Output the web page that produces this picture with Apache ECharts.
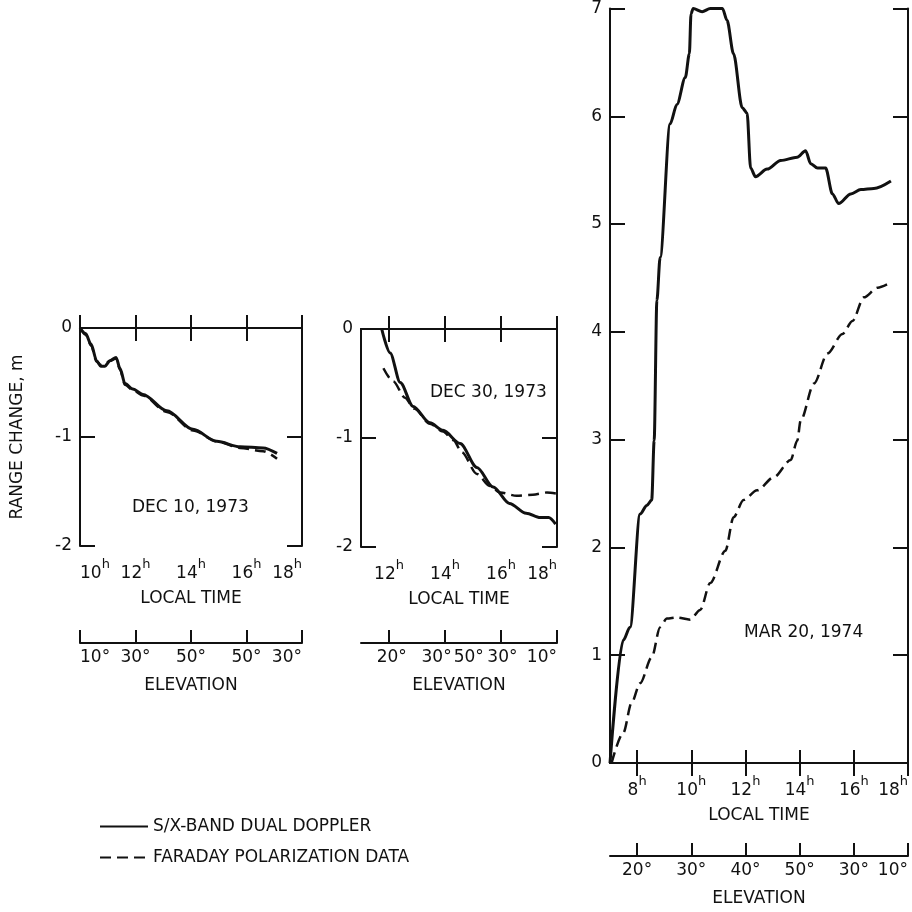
<!DOCTYPE html>
<html>
<head>
<meta charset="utf-8">
<script src="https://cdn.jsdelivr.net/npm/echarts@6/dist/echarts.min.js"></script>
<style>
html,body{margin:0;padding:0;background:#fff;}
#c{width:912px;height:912px;}
</style>
</head>
<body>
<div id="c"></div>
<script>
// ---- DATA ----
const seriesNames = ['S/X-BAND DUAL DOPPLER', 'FARADAY POLARIZATION DATA'];

// Panel 1: DEC 10, 1973  [local time (h), range change (m)]
const dec10Doppler = [[10,0],[10.2,-0.05],[10.4,-0.15],[10.6,-0.3],[10.75,-0.35],[10.9,-0.35],[11.08,-0.3],[11.3,-0.27],[11.44,-0.37],[11.62,-0.51],[11.9,-0.56],[12.27,-0.61],[13.13,-0.76],[14.07,-0.93],[14.93,-1.04],[15.77,-1.09],[16.6,-1.1],[17.1,-1.15]];
const dec10Faraday = [[10,0],[10.2,-0.06],[10.4,-0.16],[10.6,-0.31],[10.75,-0.34],[10.9,-0.33],[11.08,-0.3],[11.3,-0.28],[11.44,-0.38],[11.62,-0.52],[11.9,-0.57],[12.27,-0.62],[13.13,-0.77],[14.07,-0.94],[14.93,-1.04],[15.77,-1.1],[16.6,-1.13],[17.1,-1.2]];

// Panel 2: DEC 30, 1973
const dec30Doppler = [[11.74,0],[12.04,-0.22],[12.4,-0.49],[12.86,-0.71],[13.46,-0.86],[13.93,-0.93],[14.54,-1.05],[15.14,-1.27],[15.72,-1.45],[16.3,-1.6],[16.9,-1.69],[17.4,-1.73],[17.7,-1.73],[17.95,-1.79]];
const dec30Faraday = [[11.8,-0.36],[12.15,-0.48],[12.57,-0.63],[12.9,-0.73],[13.46,-0.87],[13.93,-0.94],[14.3,-1.02],[14.6,-1.13],[15.14,-1.33],[15.6,-1.44],[15.97,-1.5],[16.56,-1.53],[17.14,-1.52],[17.64,-1.5],[18,-1.51]];

// Panel 3: MAR 20, 1974
const mar20Doppler = [[7,0],[7.49,1.14],[7.74,1.26],[8.11,2.31],[8.36,2.39],[8.54,2.44],[8.63,2.99],[8.73,4.29],[8.85,4.69],[9.22,5.93],[9.47,6.11],[9.78,6.36],[9.93,6.58],[9.99,6.95],[10.07,7],[10.4,6.97],[10.7,7],[11.15,7],[11.32,6.89],[11.56,6.58],[11.88,6.08],[12.06,6.03],[12.19,5.52],[12.37,5.44],[12.8,5.51],[13.3,5.59],[13.91,5.62],[14.22,5.68],[14.41,5.56],[14.66,5.52],[14.96,5.52],[15.21,5.28],[15.44,5.19],[15.89,5.28],[16.26,5.32],[16.74,5.33],[17.37,5.4]];
const mar20Faraday = [[7.06,0],[7.49,0.28],[7.8,0.56],[8.11,0.74],[8.54,0.98],[8.85,1.26],[9.1,1.34],[9.47,1.35],[9.96,1.33],[10.33,1.42],[10.7,1.67],[11.26,1.97],[11.56,2.28],[11.93,2.44],[12.43,2.53],[13.04,2.65],[13.67,2.81],[13.91,2.99],[14.04,3.18],[14.53,3.52],[15.03,3.8],[15.58,3.98],[15.95,4.1],[16.37,4.32],[16.88,4.41],[17.3,4.45]];

// Axes ticks / labels
const timeTicks1 = [10,12,14,16,18];
const timeTicks2 = [12,14,16,18];
const timeTicks3 = [8,10,12,14,16,18];
const elevTicks1 = [10,12,14,16,18];
const elevPos1 = [10,12,14,16,18];
const elevLab1 = ['10°','30°','50°','50°','30°'];
const elevTicks2 = [12,14,16,18];
const elevPos2 = [12.1,13.7,14.85,16.05,18];
const elevLab2 = ['20°','30°','50°','30°','10°'];
const elevTicks3 = [8,10,12,14,16,18];
const elevPos3 = [8,10,12,14,16,18];
const elevLab3 = ['20°','30°','40°','50°','30°','10°'];
const dateLabels = ['DEC 10, 1973','DEC 30, 1973','MAR 20, 1974'];

// ---- CHART ----
const FONT = 'DejaVu Sans';
const FS = 17;
const INK = '#111';
const chart = echarts.init(document.getElementById('c'), null, {renderer:'canvas'});

const panels = [
  {grid:{left:80, top:328, width:222, height:218}, xmin:10, xmax:18, ymin:-2, ymax:0, minAlign:'left',
   tt:timeTicks1, tl:timeTicks1, et:elevTicks1, ep:elevPos1, el:elevLab1, elevOffset:97,
   d:dec10Doppler, f:dec10Faraday, yname:'RANGE CHANGE, m'},
  {grid:{left:361, top:329, width:196, height:218}, xmin:11, xmax:18, ymin:-2, ymax:0, minAlign:'center',
   tt:timeTicks2, tl:timeTicks2, et:elevTicks2, ep:elevPos2, el:elevLab2, elevOffset:96,
   d:dec30Doppler, f:dec30Faraday, yname:''},
  {grid:{left:610, top:8, width:298, height:755}, xmin:7, xmax:18, ymin:0, ymax:7, minAlign:'center',
   tt:timeTicks3, tl:timeTicks3, et:elevTicks3, ep:elevPos3, el:elevLab3, elevOffset:93,
   d:mar20Doppler, f:mar20Faraday, yname:''}
];

const axLine = {show:true, lineStyle:{color:INK, width:2}};
const grids=[], xAxes=[], yAxes=[], series=[];
panels.forEach((p,i)=>{
  grids.push(Object.assign({containLabel:false}, p.grid));
  // bottom time axis
  xAxes.push({gridIndex:i, type:'value', position:'bottom', min:p.xmin, max:p.xmax,
    axisLine:axLine, splitLine:{show:false},
    axisTick:{show:true, inside:true, length:13, lineStyle:{color:INK,width:2}, customValues:p.tt},
    axisLabel:{show:true, customValues:p.tl, margin:12, showMinLabel:true, showMaxLabel:true,
      alignMinLabel:p.minAlign, alignMaxLabel:'right', hideOverlap:false,
      formatter:v=>'{n|'+v+'}{s|h}',
      rich:{n:{fontFamily:FONT,fontSize:FS,color:INK,lineHeight:24,verticalAlign:'bottom'},
            s:{fontFamily:FONT,fontSize:13,color:INK,lineHeight:14,verticalAlign:'top'}}},
    name:'LOCAL TIME', nameLocation:'middle', nameGap:44,
    nameTextStyle:{fontFamily:FONT,fontSize:FS,color:INK}});
  // top border axis
  xAxes.push({gridIndex:i, type:'value', position:'top', min:p.xmin, max:p.xmax,
    axisLine:axLine, splitLine:{show:false},
    axisTick:{show:true, inside:true, length:13, lineStyle:{color:INK,width:2}, customValues:p.tt},
    axisLabel:{show:false}});
  // elevation axis
  xAxes.push({gridIndex:i, type:'value', position:'bottom', offset:p.elevOffset, min:p.xmin, max:p.xmax,
    axisLine:axLine, splitLine:{show:false},
    axisTick:{show:true, inside:true, length:13, lineStyle:{color:INK,width:2}, customValues:p.et},
    axisLabel:{show:true, customValues:p.ep, margin:6, showMinLabel:true, showMaxLabel:true,
      alignMinLabel:p.minAlign, alignMaxLabel:'right', hideOverlap:false,
      fontFamily:FONT, fontSize:FS, color:INK,
      formatter:v=>{const k=p.ep.findIndex(e=>Math.abs(e-v)<1e-6); return k>=0?p.el[k]:'';}},
    name:'ELEVATION', nameLocation:'middle', nameGap:34,
    nameTextStyle:{fontFamily:FONT,fontSize:FS,color:INK}});
  // left y axis
  yAxes.push({gridIndex:i, type:'value', position:'left', min:p.ymin, max:p.ymax, interval:1,
    axisLine:axLine, splitLine:{show:false},
    axisTick:{show:true, inside:true, length:15, lineStyle:{color:INK,width:2}},
    axisLabel:{show:true, margin:8, fontFamily:FONT, fontSize:FS, color:INK},
    name:p.yname, nameLocation:'middle', nameGap:54,
    nameTextStyle:{fontFamily:FONT,fontSize:FS,color:INK}});
  // right y axis
  yAxes.push({gridIndex:i, type:'value', position:'right', min:p.ymin, max:p.ymax, interval:1,
    axisLine:axLine, splitLine:{show:false},
    axisTick:{show:true, inside:true, length:15, lineStyle:{color:INK,width:2}},
    axisLabel:{show:false}});
  series.push({name:seriesNames[0], type:'line', xAxisIndex:i*3, yAxisIndex:i*2, data:p.d,
    showSymbol:false, symbol:'none', smooth:0.3, smoothMonotone:'x', clip:true,
    lineStyle:{color:INK, width:3, type:'solid'}, itemStyle:{color:INK, opacity:0}, z:3});
  series.push({name:seriesNames[1], type:'line', xAxisIndex:i*3, yAxisIndex:i*2, data:p.f,
    showSymbol:false, symbol:'none', smooth:0.3, smoothMonotone:'x', clip:true,
    lineStyle:{color:INK, width:2.5, type:[11,6]}, itemStyle:{color:INK, opacity:0}, z:2});
});

const txt = (x,y,s)=>({type:'text', left:x, top:y, style:{text:s, fontFamily:FONT, fontSize:FS, fill:INK}});

chart.setOption({
  backgroundColor:'#fff',
  animation:false,
  grid:grids, xAxis:xAxes, yAxis:yAxes, series:series,
  legend:{data:seriesNames, orient:'vertical', left:94, top:813, itemWidth:48, itemHeight:14, itemGap:14,
    itemStyle:{opacity:0},
    textStyle:{fontFamily:FONT, fontSize:FS, color:INK}},
  graphic:[ txt(132,499,dateLabels[0]), txt(430,384,dateLabels[1]), txt(744,624,dateLabels[2]) ]
});
</script>
</body>
</html>
